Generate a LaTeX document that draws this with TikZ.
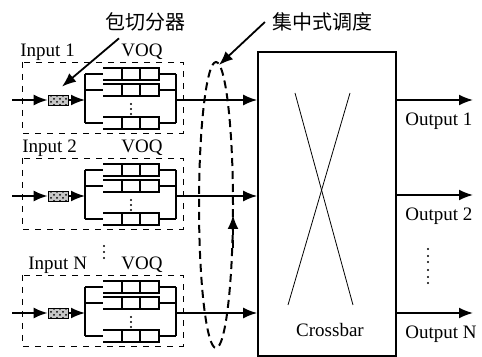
\documentclass[tikz,border=0pt]{standalone}
\usepackage{fontspec}
\setmainfont{Liberation Serif}
\newfontfamily\cjk{Noto Sans CJK SC}
\usetikzlibrary{arrows.meta, patterns, positioning}

\begin{document}
\begin{tikzpicture}[x=0.5pt, y=-0.5pt, >={Latex[length=7pt,width=5.5pt]},
    font=\fontsize{9.5}{11}\selectfont,
    group/.style={draw, dashed, thin},
    cutter/.style={draw, minimum width=10pt, minimum height=5pt, inner sep=0pt,
        preaction={fill=gray!45}, pattern=crosshatch dots},
    flow/.style={->, line width=0.9pt},
    cjklabel/.style={font=\cjk\fontsize{10}{12}\selectfont}]
    \useasboundingbox (0,0) rectangle (482,357);

    % 1. Crossbar
    \node[draw, line width=0.8pt, minimum width=69pt, minimum height=152pt, inner sep=0pt] (cb) at (327,204) {};
    \draw[thin] (295,93) -- (353,305);
    \draw[thin] (350,93) -- (288,305);
    \node (cblabel) at (330,330) {Crossbar};

    % 2. Input ports with VOQ
    \foreach \L/\n/\name/\lx in {100/1/Input 1/20, 196/2/Input 2/22, 313/3/Input N/28} {
        \draw[group] (22,\L-38) rectangle (183,\L+33);
        \node[anchor=west, inner sep=0pt] (lab\n) at (\lx,\L-48) {\name};
        \node (voq\n) at (142,\L-48) {VOQ};
        \coordinate (in\n) at (12,\L);
        \node[cutter] (cut\n) at (58,\L) {};
        \coordinate (split\n) at (85,\L);
        \coordinate (merge\n) at (176,\L);
        \draw[flow] (in\n) -- (cut\n);
        \draw[flow] (cut\n) -- (split\n);
        % queues
        \foreach \q/\dy in {a/-26, b/-10, c/23} {
            \coordinate (q\n\q) at (103,\L+\dy);
            \coordinate (r\n\q) at (159,\L+\dy);
            \draw[semithick] (103,\L+\dy-6) -- (159,\L+\dy-6) -- (159,\L+\dy+6) -- (103,\L+\dy+6);
            \draw[semithick] (122,\L+\dy-6) -- (122,\L+\dy+6) (140,\L+\dy-6) -- (140,\L+\dy+6);
            \draw[semithick] (split\n |- q\n\q) -- (q\n\q);
            \draw[semithick] (r\n\q) -- (merge\n |- r\n\q);
        }
        \draw[semithick] (split\n |- q\n a) -- (split\n |- q\n c);
        \draw[semithick] (merge\n |- r\n a) -- (merge\n |- r\n c);
        \foreach \d in {4,9,14} \fill (131,\L+\d) circle (0.55pt);
        \draw[flow] (merge\n) -- (cb.west |- merge\n);
    }
    \foreach \d in {246,252,258} \fill (104,\d) circle (0.55pt);

    % 3. Outputs
    \foreach \y/\n/\name in {100/1/Output 1, 195/2/Output 2, 313/3/Output N} {
        \coordinate (out\n) at (473,\y);
        \draw[flow] (cb.east |- out\n) -- (out\n);
        \node[anchor=west, inner sep=0pt] (olab\n) at (405,\y+21) {\name};
    }
    \foreach \d in {249,256,262,270,277,283} \fill (428,\d) circle (0.55pt);

    % 4. Scheduler and labels
    \coordinate (ring) at (216,205);
    \draw[line width=1pt, dash pattern=on 4pt off 2.5pt] (ring) ellipse [x radius=8.5pt, y radius=71.5pt];
    \draw[->, line width=1pt, dash pattern=on 4pt off 2.5pt] (233,248) -- (233,215);
    \node[cjklabel] (sched) at (322,22) {集中式调度};
    \coordinate (ringtop) at (219,65);
    \draw[flow] (sched.west) -- (ringtop);
    \node[cjklabel] (cutlabel) at (145,22) {包切分器};
    \draw[flow] ([xshift=-13pt]cutlabel.south) -- ([xshift=2pt,yshift=4pt]cut1.north);
\end{tikzpicture}
\end{document}
